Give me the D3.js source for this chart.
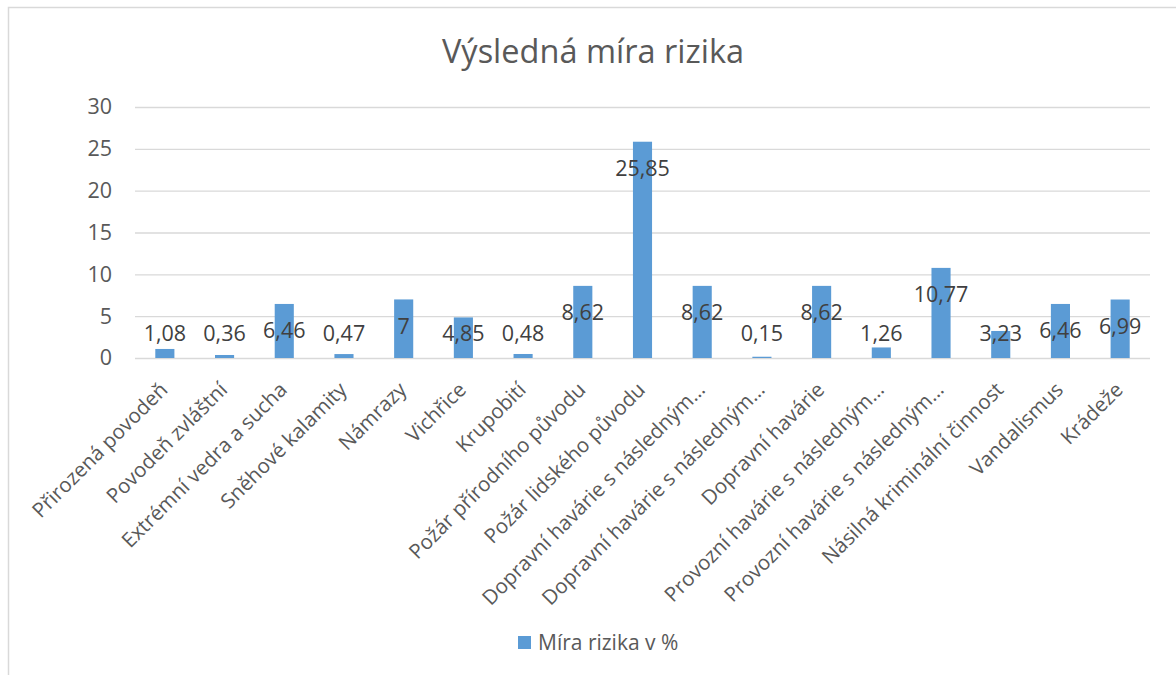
<!DOCTYPE html>
<html>
<head>
<meta charset="utf-8">
<script src="https://d3js.org/d3.v7.min.js"></script>
<style>
body { margin: 0; background: #fff; }
svg { display: block; font-family: "Open Sans", sans-serif; }
.grid line { stroke: #d9d9d9; stroke-width: 1.3; }
.grid path { stroke-width: 0; }
.axis path, .axis line { fill: none; stroke: none; }
.axis text { fill: #595959; }
</style>
</head>
<body>
<svg width="1176" height="675"></svg>
<script>

var categories = ["Přirozená povodeň", "Povodeň zvláštní", "Extrémní vedra a sucha", "Sněhové kalamity",
  "Námrazy", "Vichřice", "Krupobití", "Požár přírodního původu", "Požár lidského původu",
  "Dopravní havárie s následným…", "Dopravní havárie s následným…", "Dopravní havárie",
  "Provozní havárie s následným…", "Provozní havárie s následným…", "Násilná kriminální činnost",
  "Vandalismus", "Krádeže"];
var values = [1.08, 0.36, 6.46, 0.47, 7, 4.85, 0.48, 8.62, 25.85, 8.62, 0.15, 8.62, 1.26, 10.77, 3.23, 6.46, 6.99];
var yTicks = [0, 5, 10, 15, 20, 25, 30];
var seriesName = "Míra rizika v %";
var title = "Výsledná míra rizika";

var data = categories.map(function(c, i) { return {key: i, name: c, value: values[i]}; });

var svg = d3.select("svg"),
    width = +svg.attr("width"),
    height = +svg.attr("height"),
    margin = {top: 107, right: 26, bottom: 317, left: 135};

// chart border
svg.append("rect")
  .attr("x", 8.5).attr("y", 7.5)
  .attr("width", 1300).attr("height", 800)
  .attr("fill", "none").attr("stroke", "#d9d9d9").attr("stroke-width", 1.5);

var x = d3.scaleBand()
  .domain(data.map(function(d) { return d.key; }))
  .range([margin.left, width - margin.right])
  .paddingInner(0.68).paddingOuter(0.34);

var y = d3.scaleLinear()
  .domain([0, 30])
  .range([height - margin.bottom, margin.top]);

// gridlines
svg.append("g")
  .attr("class", "grid")
  .attr("transform", "translate(" + margin.left + ",0)")
  .call(d3.axisRight(y).tickValues(yTicks).tickFormat("").tickSize(width - margin.right - margin.left));

// bars
svg.append("g")
  .attr("fill", "#5b9bd5")
  .selectAll("rect")
  .data(data)
  .enter().append("rect")
  .attr("x", function(d) { return x(d.key); })
  .attr("y", function(d) { return y(d.value); })
  .attr("width", x.bandwidth())
  .attr("height", function(d) { return y(0) - y(d.value); });

// data labels
svg.append("g")
  .style("font-size", "21.5px")
  .attr("fill", "#404040")
  .attr("text-anchor", "middle")
  .selectAll("text")
  .data(data)
  .enter().append("text")
  .attr("x", function(d) { return x(d.key) + x.bandwidth() / 2; })
  .attr("y", function(d) { return Math.min(y(d.value) + 27, y(0) - 25); })
  .attr("dy", "0.35em")
  .text(function(d) { return String(d.value).replace(".", ","); });

// y axis
svg.append("g")
  .attr("class", "axis")
  .style("font-size", "21.5px")
  .style("font-family", "Open Sans, sans-serif")
  .attr("transform", "translate(" + margin.left + ",0)")
  .call(d3.axisLeft(y).tickValues(yTicks).tickSize(0).tickPadding(23));

// x axis
var xAxis = svg.append("g")
  .attr("class", "axis")
  .style("font-size", "20.5px")
  .style("font-family", "Open Sans, sans-serif")
  .attr("transform", "translate(0," + y(0) + ")")
  .call(d3.axisBottom(x).tickFormat(function(k) { return categories[k]; }).tickSize(0).tickPadding(0));

xAxis.selectAll("text")
  .attr("text-anchor", "end")
  .attr("dy", 0)
  .attr("transform", "translate(4,33) rotate(-45)");

// title
svg.append("text")
  .attr("x", 593).attr("y", 63)
  .attr("text-anchor", "middle")
  .attr("fill", "#595959")
  .style("font-size", "32.5px")
  .text(title);

// legend
var legend = svg.append("g").attr("transform", "translate(518,636)");
legend.append("rect").attr("width", 13).attr("height", 13).attr("fill", "#5b9bd5");
legend.append("text").attr("x", 20).attr("y", 14)
  .attr("fill", "#595959").style("font-size", "21px").text(seriesName);

</script>
</body>
</html>
